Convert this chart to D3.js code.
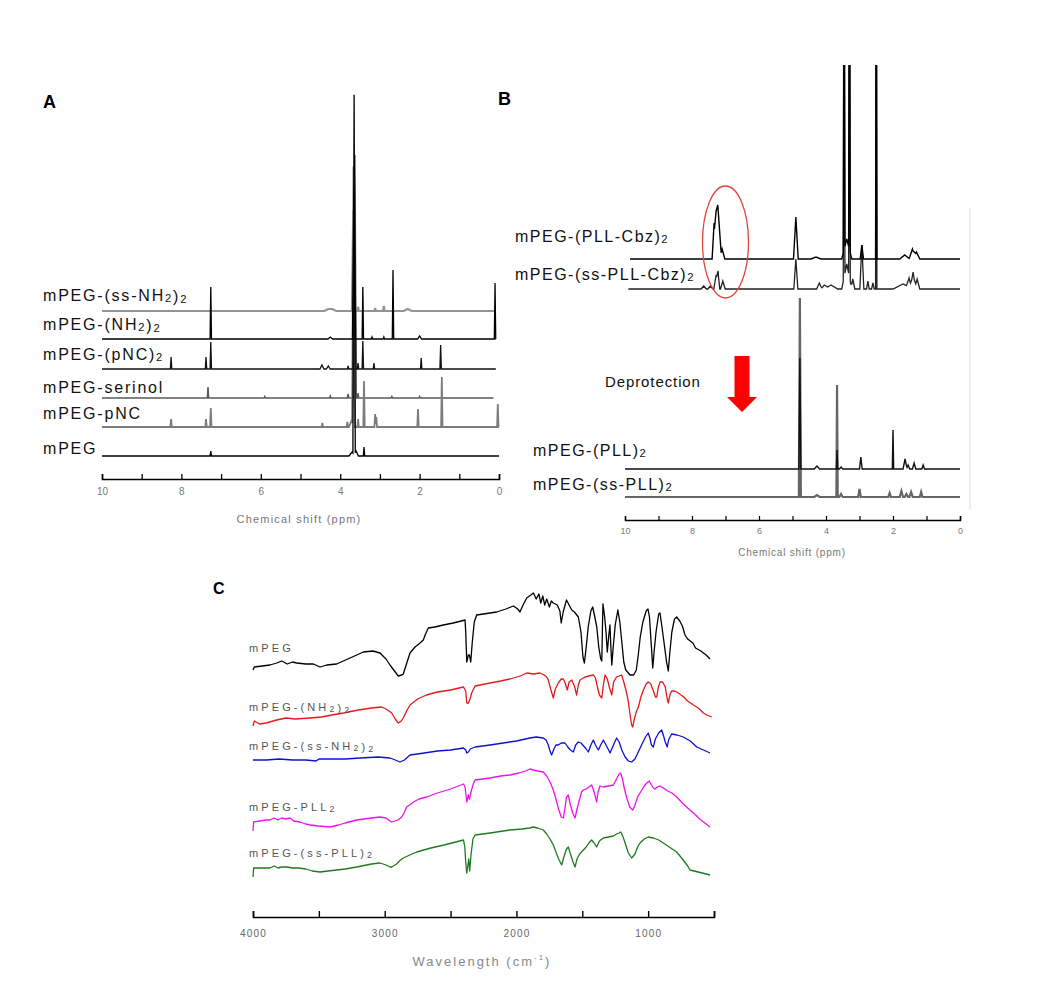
<!DOCTYPE html>
<html><head><meta charset="utf-8">
<script src="https://cdn.jsdelivr.net/npm/d3@7"></script>
<style>body{margin:0;background:#fff} text{font-family:"Liberation Sans",Arial,sans-serif}</style>
</head><body>
<svg id="c" width="1049" height="993"></svg>
<script>
// ---------------- DATA ----------------
// Panel A: 1H NMR peak lists [ppm, intensity(a.u.), halfwidth(ppm, optional)]
const namesA = ["mPEG-(ss-NH_2)_2","mPEG-(NH_2)_2","mPEG-(pNC)_2","mPEG-serinol","mPEG-pNC","mPEG"];
const peaksA_ssNH2 = [[4.3,2,0.1],[4.2,2,0.1],[3.67,101,0.035],[3.55,4],[3.12,3],[2.9,5],[2.3,2,0.1]];
const peaksA_NH2 = [[7.26,52],[4.25,2,0.06],[3.655,149,0.035],[3.43,52],[3.2,2],[2.9,2],[2.67,69],[2.0,3,0.05],[0.1,56]];
const peaksA_pNC2 = [[8.26,12],[7.38,12],[7.26,27],[4.46,4,0.05],[4.30,3,0.05],[3.8,3],[3.64,194,0.035],[3.55,6],[3.43,28],[3.15,6],[1.96,11],[1.47,24]];
const peaksA_serinol = [[7.33,11],[5.9,1.5],[4.25,2],[3.8,4],[3.63,243,0.035],[3.55,5],[2.7,1.5],[2.0,1.5]];
const peaksA_pNC = [[8.26,8],[7.38,8],[7.26,19],[4.45,4],[3.82,5],[3.72,6,0.06],[3.665,260,0.035],[3.55,8],[3.40,46],[3.12,13],[3.09,10],[2.04,18],[1.44,50],[0.03,23]];
const peaksA_mPEG = [[7.26,5],[3.70,4,0.08],[3.65,359,0.03],[3.60,5,0.06],[3.40,9]];
const rangeA = [[10,0.09],[10,0.08],[10,0.08],[10,0.14],[10,0],[10,0]];
const ticksA = [10,9,8,7,6,5,4,3,2,1,0];

// Panel B
const namesB = ["mPEG-(PLL-Cbz)_2","mPEG-(ss-PLL-Cbz)_2","mPEG-(PLL)_2","mPEG-(ss-PLL)_2"];
const peaksB_PLLCbz = [[7.34,36,0.06],[7.28,48,0.05],[7.23,54,0.05],[7.18,30,0.05],[7.1,10,0.08],[4.9,42,0.07],[4.3,2,0.15],[3.46,400,0.025],[3.3,400,0.025],[3.38,20,0.15],[2.93,14,0.05],[2.5,400,0.02],[1.65,4,0.15],[1.42,10,0.1],[1.3,7,0.1]];
const peaksB_ssPLLCbz = [[7.65,3,0.08],[7.45,3,0.08],[7.28,14,0.07],[7.22,16,0.05],[7.08,8,0.07],[4.9,30,0.06],[4.2,6,0.08],[4.05,4,0.1],[3.85,4,0.2],[3.46,400,0.025],[3.3,400,0.025],[3.38,25,0.15],[3.2,10,0.06],[2.93,44,0.06],[2.75,8,0.04],[2.6,6,0.04],[2.5,400,0.02],[1.7,5,0.3],[1.52,9,0.08],[1.4,17,0.08],[1.28,10,0.08]];
const peaksB_PLL = [[4.78,111,0.03],[4.27,3,0.08],[3.67,19,0.02],[3.55,2,0.05],[2.96,12,0.04],[2.0,39,0.02],[1.64,10,0.06],[1.55,4,0.05],[1.37,6,0.05],[1.1,4,0.04]];
const peaksB_ssPLL = [[4.78,199,0.03],[4.27,2,0.08],[3.67,112,0.02],[3.55,3,0.05],[3.0,8,0.04],[2.1,4,0.04],[1.75,6,0.05],[1.6,3,0.05],[1.46,5,0.05],[1.16,5,0.04]];
const rangeB = [[9.85,0],[9.9,0],[10,0],[10,0]];
const ticksB = [10,9,8,7,6,5,4,3,2,1,0];

// Panel C: FTIR [wavenumber cm-1, transmittance a.u.]
const namesC = ["mPEG","mPEG-(NH_2)_2","mPEG-(ss-NH_2)_2","mPEG-PLL_2","mPEG-(ss-PLL)_2"];
const ir_mPEG = [[4000,247],[3990,250],[3930,251],[3871,252],[3820,254],[3782,256],[3740,253],[3700,255],[3668,254],[3600,253],[3542,253],[3491,250],[3440,252],[3365,253],[3280,258],[3162,265],[3090,266],[3036,264],[2990,258],[2960,252],[2920,245],[2897,241],[2870,242],[2859,243],[2830,255],[2808,264],[2770,270],[2740,273],[2707,277],[2690,283],[2669,289],[2620,290],[2555,292],[2480,294],[2420,296],[2390,297],[2385,285],[2377,255],[2365,262],[2357,262],[2347,255],[2335,275],[2320,295],[2302,302],[2250,303],[2150,305],[2080,308],[2023,311],[1990,308],[1973,305],[1950,312],[1922,319],[1890,322],[1871,324],[1850,318],[1830,323],[1815,314],[1800,321],[1785,312],[1770,318],[1750,310],[1735,316],[1720,314],[1690,312],[1670,306],[1660,294],[1645,305],[1620,317],[1600,312],[1580,307],[1560,305],[1530,300],[1510,285],[1495,260],[1484,254],[1470,270],[1455,290],[1435,306],[1421,310],[1405,300],[1390,290],[1375,270],[1360,258],[1352,256],[1347,290],[1343,313],[1330,300],[1320,285],[1310,265],[1300,280],[1290,292],[1283,270],[1276,252],[1265,270],[1250,292],[1230,307],[1215,295],[1200,275],[1185,255],[1170,247],[1150,244],[1137,242],[1110,242],[1090,247],[1075,262],[1060,280],[1040,295],[1015,306],[1001,308],[990,300],[975,270],[965,249],[955,265],[940,285],[920,303],[910,304],[895,290],[880,275],[860,255],[847,246],[835,265],[820,285],[800,298],[783,300],[760,296],[740,291],[720,282],[700,278],[680,276],[660,274],[640,269],[600,266],[560,262],[530,258]];
const ir_NH2 = [[4000,191],[3990,196],[3950,193],[3900,194],[3820,197],[3750,199],[3680,198],[3567,199],[3480,200],[3400,202],[3314,204],[3200,207],[3100,209],[3023,210],[2990,208],[2947,204],[2920,198],[2897,194],[2875,196],[2859,199],[2830,207],[2808,212],[2750,218],[2683,222],[2600,225],[2500,227],[2402,230],[2385,226],[2377,214],[2364,214],[2352,218],[2340,224],[2314,231],[2200,234],[2120,236],[2049,238],[1970,241],[1922,244],[1870,243],[1821,244],[1790,242],[1770,240],[1758,237],[1740,228],[1720,219],[1705,228],[1682,234],[1660,238],[1644,238],[1630,234],[1614,227],[1600,235],[1580,237],[1560,231],[1543,222],[1530,232],[1517,237],[1479,240],[1450,241],[1416,242],[1400,239],[1385,230],[1370,222],[1352,219],[1340,232],[1327,242],[1310,238],[1295,230],[1276,222],[1262,235],[1240,240],[1220,241],[1201,242],[1185,235],[1165,225],[1150,215],[1135,200],[1125,192],[1117,190],[1105,198],[1090,205],[1074,210],[1055,220],[1036,227],[1015,233],[999,235],[980,233],[960,226],[945,220],[935,220],[925,228],[910,235],[890,235],[870,230],[855,218],[847,214],[835,222],[822,226],[800,226],[783,225],[760,223],[730,220],[700,216],[656,212],[620,209],[580,204],[555,202],[517,200]];
const ir_ssNH2 = [[4000,157],[3900,157],[3800,158],[3700,157],[3600,157],[3520,156],[3500,158],[3400,158],[3300,158],[3188,159],[3050,160],[2960,159],[2920,157],[2884,155],[2850,157],[2808,162],[2700,164],[2600,166],[2500,167],[2402,169],[2385,167],[2377,164],[2365,165],[2350,168],[2314,170],[2200,172],[2100,174],[2000,176],[1897,179],[1850,180],[1796,179],[1775,177],[1758,172],[1745,166],[1733,162],[1715,168],[1700,172],[1682,172],[1660,174],[1631,174],[1610,170],[1590,167],[1568,165],[1550,172],[1530,175],[1510,174],[1490,171],[1470,168],[1454,165],[1435,172],[1416,177],[1400,172],[1378,167],[1360,172],[1340,177],[1320,172],[1300,167],[1289,164],[1270,170],[1250,176],[1239,179],[1220,175],[1200,167],[1175,160],[1150,156],[1125,155],[1100,158],[1075,165],[1050,172],[1020,180],[999,184],[985,178],[975,172],[961,170],[945,178],[920,184],[897,187],[885,182],[870,175],[855,170],[845,177],[822,183],[780,182],[733,180],[680,176],[631,170],[580,167],[530,164]];
const ir_PLL = [[4000,86],[3995,95],[3950,96],[3900,97],[3871,97],[3840,99],[3810,97],[3782,99],[3750,98],[3719,99],[3690,96],[3643,95],[3600,93],[3567,92],[3500,91],[3415,90],[3350,92],[3300,94],[3213,97],[3100,99],[3036,100],[2990,99],[2960,96],[2947,95],[2900,97],[2871,100],[2850,105],[2833,110],[2780,115],[2740,118],[2681,120],[2600,124],[2500,128],[2402,133],[2390,130],[2377,115],[2365,122],[2357,118],[2345,125],[2330,132],[2314,137],[2200,139],[2120,141],[2049,142],[1980,144],[1930,146],[1897,148],[1870,147],[1840,146],[1796,145],[1770,141],[1745,135],[1720,127],[1700,118],[1680,108],[1660,100],[1644,99],[1630,110],[1620,120],[1606,122],[1590,112],[1570,103],[1555,99],[1540,108],[1520,118],[1505,125],[1492,127],[1470,128],[1450,130],[1429,132],[1410,125],[1391,115],[1380,125],[1366,131],[1340,130],[1300,131],[1264,132],[1240,138],[1220,143],[1208,144],[1195,138],[1180,128],[1160,118],[1140,110],[1117,107],[1100,112],[1080,120],[1062,124],[1030,131],[1010,134],[992,136],[975,132],[960,129],[948,128],[930,130],[910,131],[885,129],[850,126],[820,124],[783,120],[740,114],[700,109],[656,104],[600,97],[560,93],[530,90]];
const ir_ssPLL = [[4000,40],[3995,49],[3950,49],[3900,49],[3871,49],[3840,51],[3810,49],[3782,50],[3740,50],[3700,49],[3650,49],[3600,48],[3550,46],[3491,45],[3430,46],[3365,47],[3300,48],[3213,50],[3100,53],[3036,54],[2990,52],[2960,50],[2947,50],[2910,53],[2880,57],[2859,59],[2810,62],[2757,65],[2650,69],[2550,72],[2460,75],[2402,77],[2392,70],[2385,55],[2377,44],[2370,50],[2362,58],[2355,46],[2345,62],[2330,78],[2314,82],[2200,84],[2100,86],[2049,87],[1960,88],[1900,89],[1871,90],[1840,89],[1796,87],[1770,83],[1745,78],[1720,72],[1700,65],[1680,58],[1656,52],[1640,60],[1620,68],[1606,70],[1590,63],[1570,55],[1555,50],[1540,58],[1520,63],[1492,67],[1470,70],[1450,74],[1429,77],[1410,74],[1391,70],[1370,76],[1340,79],[1300,80],[1264,81],[1240,83],[1220,84],[1208,85],[1190,80],[1170,72],[1150,64],[1125,59],[1100,63],[1080,70],[1062,74],[1030,78],[999,80],[960,79],[920,77],[885,74],[840,70],[783,65],[740,58],[700,51],[682,47],[620,45],[560,43],[530,42]];
const ticksC = [4000,3500,3000,2500,2000,1500,1000,500];

// ---------------- LAYOUT / STYLE ----------------
const svg = d3.select("#c");
const FONT = '"Liberation Sans",Arial,sans-serif';

function addLabel(g, str, x, y, size, spacing, fill, subScale) {
  const t = g.append("text").attr("x", x).attr("y", y).attr("font-size", size)
    .attr("letter-spacing", spacing).attr("fill", fill);
  str.split(/(_\d)/).filter(s => s.length).forEach(s => {
    if (s[0] === "_") {
      t.append("tspan").attr("font-size", size * subScale).attr("dy", 1).text(s.slice(1));
      t.append("tspan").attr("dy", -1).text("");
    } else t.append("tspan").text(s);
  });
  return t;
}

function nmrPoints(peaks, start, end, defW) {
  const set = new Set([start, end]);
  peaks.forEach(([p, h, w]) => {
    w = w || defW;
    [p - w, p, p + w].forEach(v => { if (v <= start && v >= end) set.add(v); });
  });
  const xs = Array.from(set).sort((a, b) => b - a);
  return xs.map(x => [x, d3.sum(peaks, ([p, h, w]) => { w = w || defW; return Math.max(0, h * (1 - Math.abs(x - p) / w)); })]);
}

// ---------- Panel A ----------
const xA = d3.scaleLinear().domain([10, 0]).range([102, 499]);
const yA = d3.scaleLinear().domain([0, 100]).range([0, -100]);
const baseA = [311, 339, 369, 398, 427, 456];
const labelYA = [301, 330, 360, 393, 419, 454];
const colorA = ["#939393", "#000", "#111", "#5a5a5a", "#7d7d7d", "#000"];
const widthA = [2.2, 1.3, 1.3, 1.5, 1.8, 1.3];
const orderA = [0, 3, 4, 5, 2, 1];
const peaksA = [peaksA_ssNH2, peaksA_NH2, peaksA_pNC2, peaksA_serinol, peaksA_pNC, peaksA_mPEG];

const gA = svg.append("g");
gA.append("text").attr("x", 43).attr("y", 108).attr("font-size", 18).attr("font-weight", "bold").text("A");
orderA.forEach(i => {
  const pts = nmrPoints(peaksA[i], rangeA[i][0], rangeA[i][1], 0.018);
  const line = d3.line().x(d => xA(d[0])).y(d => baseA[i] + yA(d[1]));
  gA.append("path").attr("d", line(pts)).attr("fill", "none")
    .attr("stroke", colorA[i]).attr("stroke-width", widthA[i]).attr("stroke-linejoin", "miter");
});
namesA.forEach((n, i) => addLabel(gA, n, 43, labelYA[i], 16, 1.8, "#111", 0.7));
const axA = gA.append("g").attr("transform", "translate(0,479)")
  .call(d3.axisBottom(xA).tickValues(ticksA).tickSize(-5).tickPadding(9)
    .tickFormat(d => d % 2 === 0 ? d : ""));
axA.select(".domain").attr("stroke", "#000").attr("stroke-width", 1.6);
axA.selectAll(".tick line").attr("stroke", "#000").attr("stroke-width", 1.3);
axA.selectAll(".tick text").attr("font-size", 10).attr("fill", "#777").attr("font-family", FONT);
gA.append("text").attr("x", 299).attr("y", 523).attr("text-anchor", "middle")
  .attr("font-size", 11).attr("letter-spacing", 1.2).attr("fill", "#777").text("Chemical shift (ppm)");

// ---------- Panel B ----------
const xB = d3.scaleLinear().domain([10, 0]).range([625, 960]);
const yB = d3.scaleLinear().domain([0, 100]).range([0, -100]);
const baseB = [259, 289, 469, 497];
const labelYB = [242, 280, 456, 490];
const labelXB = [515, 515, 533, 533];
const colorB = ["#000", "#222", "#111", "#666"];
const widthB = [1.4, 1.3, 1.4, 2.2];
const peaksB = [peaksB_PLLCbz, peaksB_ssPLLCbz, peaksB_PLL, peaksB_ssPLL];

const gB = svg.append("g");
svg.append("defs").append("clipPath").attr("id", "clipB").append("rect")
  .attr("x", 600).attr("y", 65).attr("width", 380).attr("height", 460);
gB.append("text").attr("x", 498).attr("y", 105).attr("font-size", 18).attr("font-weight", "bold").text("B");
gB.append("line").attr("x1", 970).attr("x2", 970).attr("y1", 208).attr("y2", 510)
  .attr("stroke", "#dcdcdc").attr("stroke-width", 1);
const gBc = gB.append("g").attr("clip-path", "url(#clipB)");
for (let i = peaksB.length - 1; i >= 0; i--) {
  const pts = nmrPoints(peaksB[i], rangeB[i][0], rangeB[i][1], 0.05);
  const line = d3.line().x(d => xB(d[0])).y(d => baseB[i] + yB(d[1]));
  gBc.append("path").attr("d", line(pts)).attr("fill", "none")
    .attr("stroke", colorB[i]).attr("stroke-width", widthB[i]);
}
namesB.forEach((n, i) => addLabel(gB, n, labelXB[i], labelYB[i], 16, 1.5, "#111", 0.7));
// red ellipse annotation
gB.append("ellipse").attr("cx", xB(7.0)).attr("cy", 242).attr("rx", 23).attr("ry", 56)
  .attr("fill", "none").attr("stroke", "#e0453c").attr("stroke-width", 1.3);
// Deprotection + arrow
gB.append("text").attr("x", 605).attr("y", 387).attr("font-size", 15).attr("letter-spacing", 0.9)
  .attr("fill", "#111").text("Deprotection");
const ax = 742;
gB.append("polygon").attr("fill", "#ff0000")
  .attr("points", [[ax - 7.5, 356], [ax + 7.5, 356], [ax + 7.5, 397], [ax + 15, 397], [ax, 412], [ax - 15, 397], [ax - 7.5, 397]].map(p => p.join(",")).join(" "));
const axB = gB.append("g").attr("transform", "translate(0,520)")
  .call(d3.axisBottom(xB).tickValues(ticksB).tickSize(-4).tickPadding(8)
    .tickFormat(d => d % 2 === 0 ? d : ""));
axB.select(".domain").attr("stroke", "#000").attr("stroke-width", 1.5);
axB.selectAll(".tick line").attr("stroke", "#000").attr("stroke-width", 1.2);
axB.selectAll(".tick text").attr("font-size", 9).attr("fill", "#777").attr("font-family", FONT);
gB.append("text").attr("x", 792).attr("y", 556).attr("text-anchor", "middle")
  .attr("font-size", 10).attr("letter-spacing", 0.8).attr("fill", "#777").text("Chemical shift (ppm)");

// ---------- Panel C ----------
const xC = d3.scaleLinear().domain([4000, 500]).range([253, 714]);
const yC = d3.scaleLinear().domain([0, 340]).range([917, 577]);
const irs = [ir_mPEG, ir_NH2, ir_ssNH2, ir_PLL, ir_ssPLL];
const colorC = ["#000000", "#e31a1c", "#1010d0", "#ee10ee", "#1f7a1f"];
const labelYC = [652, 711, 750, 811, 857];
const gC = svg.append("g");
gC.append("text").attr("x", 213).attr("y", 594).attr("font-size", 16).attr("font-weight", "bold").text("C");
const lineC = d3.line().x(d => xC(d[0])).y(d => yC(d[1]));
irs.forEach((s, i) => gC.append("path").attr("d", lineC(s)).attr("fill", "none")
  .attr("stroke", colorC[i]).attr("stroke-width", 1.3).attr("stroke-linejoin", "round"));
namesC.forEach((n, i) => addLabel(gC, n, 249, labelYC[i], 11, 3.1, "#555", 0.8));
const axC = gC.append("g").attr("transform", "translate(0,917)")
  .call(d3.axisBottom(xC).tickValues(ticksC).tickSize(-6).tickPadding(13)
    .tickFormat(d => d % 1000 === 0 ? d : ""));
axC.select(".domain").attr("stroke", "#000").attr("stroke-width", 1.6);
axC.selectAll(".tick line").attr("stroke", "#000").attr("stroke-width", 1.4);
axC.selectAll(".tick text").attr("font-size", 10).attr("letter-spacing", 1.2).attr("fill", "#666").attr("font-family", FONT);
const tC = gC.append("text").attr("x", 482).attr("y", 966).attr("text-anchor", "middle")
  .attr("font-size", 13).attr("letter-spacing", 2).attr("fill", "#888");
tC.append("tspan").text("Wavelength (cm");
tC.append("tspan").attr("font-size", 8).attr("dy", -6).text("-1");
tC.append("tspan").attr("dy", 6).text(")");
</script>
</body></html>
